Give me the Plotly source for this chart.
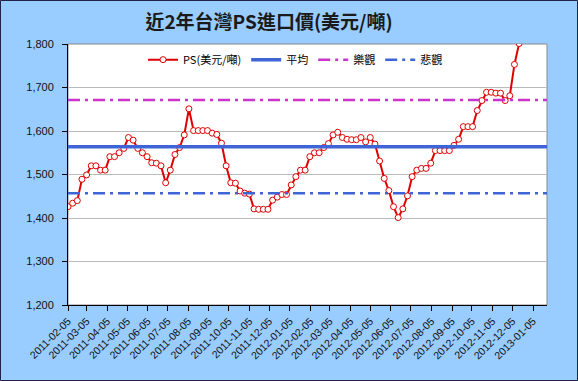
import datetime as dt
import plotly.graph_objects as go

# ---- data ----
start_date = "2011-02-05"
ps_values = [
    1426, 1434, 1440, 1489, 1499, 1520, 1520, 1510, 1510, 1541,
    1541, 1550, 1560, 1585, 1579, 1560, 1550, 1541, 1527, 1526,
    1520, 1481, 1510, 1546, 1562, 1591, 1651, 1601, 1601, 1601,
    1601, 1595, 1592, 1572, 1520, 1481, 1480, 1462, 1457, 1455,
    1421, 1420, 1420, 1420, 1441, 1448, 1454, 1454, 1476, 1495,
    1510, 1510, 1541, 1550, 1550, 1562, 1571, 1591, 1597, 1585,
    1581, 1580, 1580, 1585, 1575, 1585, 1570, 1531, 1491, 1463,
    1426, 1401, 1421, 1451, 1495, 1510, 1514, 1514, 1526, 1555,
    1555, 1555, 1555, 1567, 1581, 1610, 1610, 1610, 1647, 1670,
    1689, 1689, 1687, 1687, 1670, 1681, 1753, 1801, 1840, 1860,
    1870, 1880, 1885, 1890,
]
avg_value = 1564
optimistic_value = 1671
pessimistic_value = 1457
tick_labels = [
    "2011-02-05", "2011-03-05", "2011-04-05", "2011-05-05", "2011-06-05",
    "2011-07-05", "2011-08-05", "2011-09-05", "2011-10-05", "2011-11-05",
    "2011-12-05", "2012-01-05", "2012-02-05", "2012-03-05", "2012-04-05",
    "2012-05-05", "2012-06-05", "2012-07-05", "2012-08-05", "2012-09-05",
    "2012-10-05", "2012-11-05", "2012-12-05", "2013-01-05",
]
y_ticks = [1200, 1300, 1400, 1500, 1600, 1700, 1800]

d0 = dt.date.fromisoformat(start_date)
dates = [(d0 + dt.timedelta(days=7 * i)).isoformat() for i in range(len(ps_values))]
x_end = dates[-1]

FONT = "Liberation Sans, Arial, Noto Sans CJK TC, sans-serif"
CJK = "Noto Sans CJK TC, Liberation Sans, sans-serif"

fig = go.Figure()
fig.add_trace(go.Scatter(
    x=dates, y=ps_values, name="PS(美元/噸)", mode="lines+markers",
    line=dict(color="#DD0000", width=2),
    marker=dict(symbol="circle", size=6, color="white",
                line=dict(color="#DD0000", width=1)),
))
fig.add_trace(go.Scatter(
    x=[start_date, x_end], y=[avg_value, avg_value], name="平均", mode="lines",
    line=dict(color="#3F64D8", width=3.5),
))
fig.add_trace(go.Scatter(
    x=[start_date, x_end], y=[optimistic_value, optimistic_value], name="樂觀",
    mode="lines", line=dict(color="#CC33CC", width=2.5, dash="12px,5px,3px,5px"),
))
fig.add_trace(go.Scatter(
    x=[start_date, x_end], y=[pessimistic_value, pessimistic_value], name="悲觀",
    mode="lines", line=dict(color="#3F64D8", width=2.5, dash="12px,5px,3px,5px"),
))

L, R, T, B = 68, 31, 44, 76
W, H = 578, 381
pw, ph = W - L - R, H - T - B

fig.update_layout(
    width=W, height=H,
    margin=dict(l=L, r=R, t=T, b=B, pad=0, autoexpand=False),
    paper_bgcolor="#99CCFF",
    plot_bgcolor="white",
    font=dict(family=FONT, size=11, color="#000000"),
    title=dict(text="<b>近2年台灣PS進口價(美元/噸)</b>", x=269 / W, xanchor="center",
               y=1 - 22 / H, yanchor="middle",
               font=dict(family=CJK, size=19, color="#1a1a1a")),
    showlegend=True,
    legend=dict(orientation="h", x=0.475, xanchor="center", y=0.94, yanchor="middle",
                bgcolor="rgba(255,255,255,0)", font=dict(family=CJK, size=11),
                itemwidth=30, tracegroupgap=0),
    xaxis=dict(
        type="date", range=[start_date, x_end], automargin=False,
        tickmode="array", tickvals=tick_labels, ticktext=tick_labels,
        tickangle=-45, ticks="outside", ticklen=5, tickcolor="black",
        showline=True, linecolor="black", linewidth=1,
        showgrid=False, zeroline=False,
        tickfont=dict(family=FONT, size=10.5, color="#111111"),
    ),
    yaxis=dict(
        range=[1200, 1800], tickmode="array", tickvals=y_ticks, automargin=False,
        ticktext=[f"{v:,}" for v in y_ticks],
        ticks="outside", ticklen=5, tickcolor="black",
        showline=True, linecolor="black", linewidth=1,
        showgrid=True, gridcolor="#BBBBBB", gridwidth=1, zeroline=False,
        tickfont=dict(family=FONT, size=11, color="#111111"),
        ticklabelstandoff=6,
    ),
    shapes=[
        dict(type="rect", xref="paper", yref="paper", x0=0, x1=1, y0=0, y1=1,
             line=dict(color="#888888", width=1), layer="below"),
        dict(type="rect", xref="paper", yref="paper",
             x0=(0.5 - L) / pw, x1=(W - 0.5 - L) / pw,
             y0=(H - B - (H - 0.5)) / ph, y1=(H - B - 0.5) / ph,
             line=dict(color="#222244", width=1), layer="above"),
    ],
)

fig.write_html(
    "out.html",
    config={"displayModeBar": False},
    post_script="document.body.style.margin='0';document.body.style.overflow='hidden';",
)
